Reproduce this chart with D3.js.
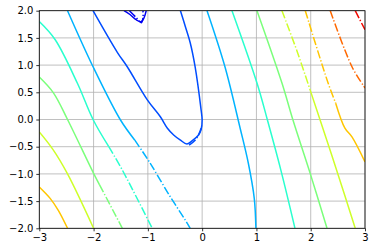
<!DOCTYPE html>
<html>
<head>
<meta charset="utf-8">
<script src="https://cdn.jsdelivr.net/npm/d3@7"></script>
<style>
  html, body { margin: 0; padding: 0; background: #fff; }
  svg { display: block; }
  text { font-family: "DejaVu Sans", sans-serif; font-size: 10px; fill: #000; }
</style>
</head>
<body>
<svg id="chart" width="375" height="252"></svg>
<script>
// ---- data ----
const xTicks = [-3, -2, -1, 0, 1, 2, 3];
const yTicks = [-2, -1.5, -1, -0.5, 0, 0.5, 1, 1.5, 2];
const contourLevels = [0, 1, 2, 3, 4, 5, 6, 7, 8]; // low -> high

// solid contour pieces: [levelIndex, points]
const solidSegments = [
  [0, [[-1.44, 2.0], [-1.33, 1.93], [-1.21, 1.83], [-1.12, 1.80], [-1.07, 1.87], [-1.03, 2.0]]],
  [1, [[-2.01, 2.0], [-1.56, 1.23], [-1.38, 0.97], [-1.01, 0.36], [-0.77, 0.05], [-0.64, -0.16],
       [-0.52, -0.29], [-0.40, -0.38], [-0.28, -0.45], [-0.17, -0.38], [-0.07, -0.29], [-0.02, -0.19],
       [0.0, -0.01], [-0.02, 0.18], [-0.13, 0.97], [-0.22, 1.41], [-0.31, 1.71], [-0.40, 2.0]]],
  [2, [[-2.48, 2.0], [-2.01, 0.97], [-1.51, 0.0], [-1.24, -0.38]]],
  [2, [[0.09, 2.0], [0.42, 0.97], [0.70, -0.16], [0.85, -0.80], [0.96, -1.45], [0.99, -2.0]]],
  [3, [[-3.0, 1.80], [-2.71, 1.47], [-2.30, 0.67], [-2.01, 0.0], [-1.72, -0.5]]],
  [3, [[0.55, 2.0], [1.01, 0.67], [1.20, 0.0], [1.45, -0.93], [1.71, -2.0]]],
  [4, [[-3.0, 0.78], [-2.74, 0.49], [-2.48, 0.0], [-2.0, -0.99], [-1.89, -1.2]]],
  [4, [[1.01, 2.0], [1.47, 0.67], [1.67, 0.0], [1.99, -0.99], [2.30, -2.0]]],
  [5, [[-3.0, -0.23], [-2.75, -0.55], [-2.48, -1.0], [-2.0, -2.0]]],
  [5, [[1.99, 0.54], [2.17, 0.0], [2.50, -1.0], [2.82, -2.0]]],
  [6, [[-3.0, -1.24], [-2.80, -1.45], [-2.65, -1.67], [-2.48, -2.0]]],
  [6, [[2.46, 0.3], [2.63, -0.16], [2.76, -0.32], [3.0, -0.78]]]
];

// dash-dot contour pieces: [levelIndex, points]
const dashSegments = [
  [0, [[-1.34, 2.0], [-1.23, 1.89], [-1.12, 1.78], [-1.09, 1.87], [-1.09, 2.0]]],
  [1, [[-0.24, -0.47], [-0.13, -0.38], [-0.06, -0.27], [-0.02, -0.16]]],
  [2, [[-1.24, -0.38], [-0.96, -0.80], [-0.60, -1.40], [-0.31, -1.85], [-0.22, -2.0]]],
  [3, [[-1.72, -0.5], [-1.47, -0.93], [-0.92, -2.0]]],
  [4, [[-1.89, -1.2], [-1.47, -2.0]]],
  [5, [[1.47, 2.0], [1.75, 1.25], [1.99, 0.54]]],
  [6, [[1.90, 2.0], [2.32, 0.67], [2.46, 0.3]]],
  [7, [[2.36, 2.0], [2.76, 0.97], [3.0, 0.58]]],
  [8, [[2.82, 2.0], [3.0, 1.65]]]
];

// ---- chart ----
const svg = d3.select("#chart");
const mLeft = 39.3, mRight = 365, mTop = 10.7, mBottom = 228.3;

const x = d3.scaleLinear().domain([-3, 3]).range([mLeft, mRight]);
const y = d3.scaleLinear().domain([-2, 2]).range([mBottom, mTop]);

// jet colormap
const jetStopsR = [[0, 0], [0.35, 0], [0.66, 1], [0.89, 1], [1, 0.5]];
const jetStopsG = [[0, 0], [0.125, 0], [0.375, 1], [0.64, 1], [0.91, 0], [1, 0]];
const jetStopsB = [[0, 0.5], [0.11, 1], [0.34, 1], [0.65, 0], [1, 0]];
function chan(stops, t) {
  const s = d3.scaleLinear().domain(stops.map(d => d[0])).range(stops.map(d => d[1])).clamp(true);
  return Math.round(s(t) * 255);
}
function jet(t) { return d3.rgb(chan(jetStopsR, t), chan(jetStopsG, t), chan(jetStopsB, t)).formatHex(); }
const levelPos = d3.scaleLinear().domain([-1, contourLevels.length]).range([0, 1]);
const color = lvl => jet(levelPos(lvl));

// grid
const grid = svg.append("g");
grid.selectAll(".gx").data(xTicks).join("line")
  .attr("x1", d => x(d)).attr("x2", d => x(d)).attr("y1", mTop).attr("y2", mBottom)
  .attr("stroke", "#b0b0b0").attr("stroke-width", 0.8);
grid.selectAll(".gy").data(yTicks).join("line")
  .attr("y1", d => y(d)).attr("y2", d => y(d)).attr("x1", mLeft).attr("x2", mRight)
  .attr("stroke", "#b0b0b0").attr("stroke-width", 0.8);

// clip
svg.append("clipPath").attr("id", "clip").append("rect")
  .attr("x", mLeft).attr("y", mTop).attr("width", mRight - mLeft).attr("height", mBottom - mTop);

const line = d3.line().x(d => x(d[0])).y(d => y(d[1])).curve(d3.curveCatmullRom.alpha(0.5));
const plot = svg.append("g").attr("clip-path", "url(#clip)");

plot.selectAll(".solid").data(solidSegments).join("path")
  .attr("d", d => line(d[1]))
  .attr("fill", "none")
  .attr("stroke", d => color(d[0]))
  .attr("stroke-width", 1.5)
  .attr("stroke-linejoin", "round");

plot.selectAll(".dash").data(dashSegments).join("path")
  .attr("d", d => line(d[1]))
  .attr("fill", "none")
  .attr("stroke", d => color(d[0]))
  .attr("stroke-width", 1.5)
  .attr("stroke-dasharray", "8.3,2.1,1.3,2.1");

// axes
const fx = d3.format("d"), fy = d3.format(".1f");
const xAxis = d3.axisBottom(x).tickValues(xTicks).tickFormat(fx).tickSize(3).tickPadding(3);
const yAxis = d3.axisLeft(y).tickValues(yTicks).tickFormat(fy).tickSize(3).tickPadding(3);
const gx = svg.append("g").attr("transform", `translate(0,${mBottom})`).call(xAxis);
const gy = svg.append("g").attr("transform", `translate(${mLeft},0)`).call(yAxis);
[gx, gy].forEach(g => {
  g.select(".domain").remove();
  g.selectAll("line").attr("stroke", "#000").attr("stroke-width", 0.8);
  g.selectAll("text").style("font-family", "DejaVu Sans").style("font-size", "10px").attr("fill", "#000");
});

// frame
svg.append("rect").attr("x", mLeft).attr("y", mTop).attr("width", mRight - mLeft).attr("height", mBottom - mTop)
  .attr("fill", "none").attr("stroke", "#000").attr("stroke-width", 0.8);
</script>
</body>
</html>
